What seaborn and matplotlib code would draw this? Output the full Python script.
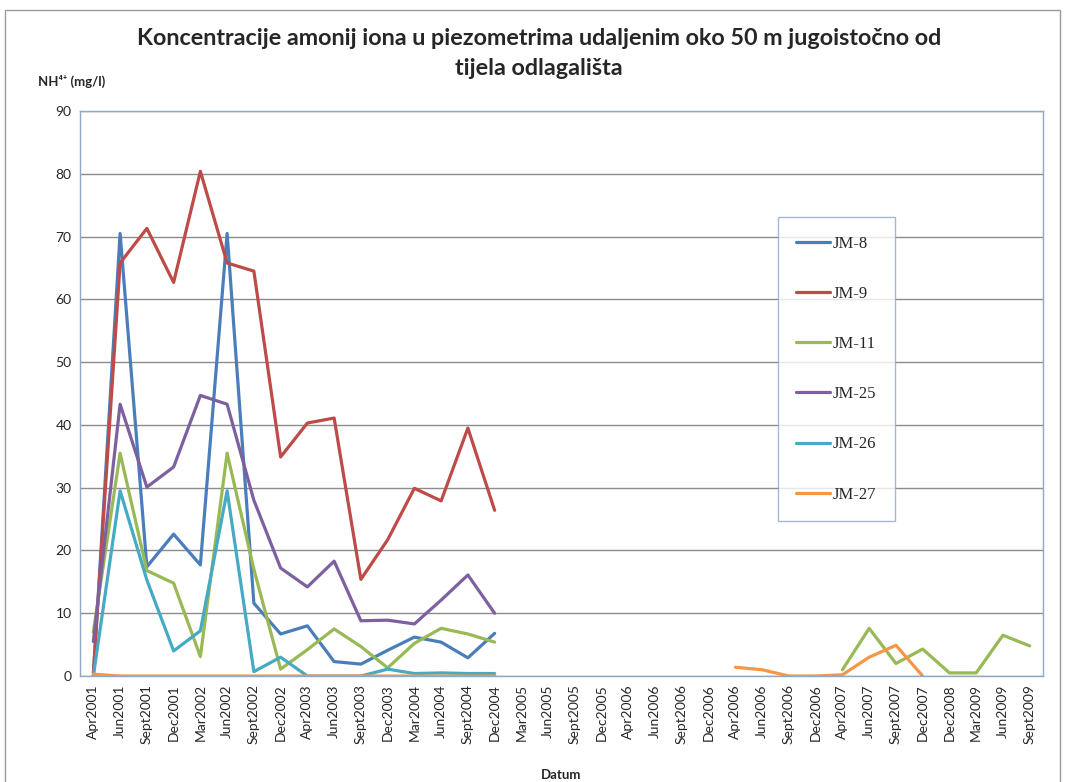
import numpy as np
import pandas as pd
import matplotlib
matplotlib.use("Agg")
import matplotlib.pyplot as plt
import seaborn as sns
from matplotlib.patches import Rectangle

nan = np.nan

datumi = ["Apr2001", "Jun2001", "Sept2001", "Dec2001", "Mar2002", "Jun2002",
          "Sept2002", "Dec2002", "Apr2003", "Jun2003", "Sept2003", "Dec2003",
          "Mar2004", "Jun2004", "Sept2004", "Dec2004", "Mar2005", "Jun2005",
          "Sept2005", "Dec2005", "Apr2006", "Jun2006", "Sept2006", "Dec2006",
          "Apr2006", "Jun2006", "Sept2006", "Dec2006", "Apr2007", "Jun2007",
          "Sept2007", "Dec2007", "Dec2008", "Mar2009", "Jun2009", "Sept2009"]

praznina_20 = [nan] * 20

jm8 = [0.0, 70.5, 17.4, 22.6, 17.7, 70.5, 11.6, 6.7, 8.0, 2.3, 1.9, 4.1,
       6.2, 5.4, 2.9, 6.8] + praznina_20
jm9 = [0.5, 65.8, 71.3, 62.7, 80.4, 65.8, 64.5, 34.9, 40.3, 41.1, 15.4, 21.7,
       29.9, 27.9, 39.5, 26.4] + praznina_20
jm11 = [7.0, 35.5, 16.8, 14.8, 3.1, 35.5, 17.0, 1.1, 4.2, 7.5, 4.7, 1.3,
        5.2, 7.6, 6.7, 5.4] + [nan] * 12 + [1.0, 7.6, 2.0, 4.3, 0.5, 0.5, 6.5, 4.8]
jm25 = [5.5, 43.3, 30.1, 33.3, 44.7, 43.3, 28.0, 17.2, 14.2, 18.3, 8.8, 8.9,
        8.3, 12.1, 16.1, 10.0] + praznina_20
jm26 = [0.0, 29.5, 15.3, 4.0, 7.2, 29.5, 0.7, 3.0, 0.0, 0.0, 0.0, 1.1,
        0.4, 0.5, 0.4, 0.4] + praznina_20
jm27 = [0.3, 0.0, 0.0, 0.0, 0.0, 0.0, 0.0, 0.0, 0.0, 0.0, 0.0, 0.0,
        0.0, 0.0, 0.0, 0.0] + [nan] * 8 + [1.4, 1.0, 0.0, 0.0, 0.2, 3.0, 4.9, 0.0] + [nan] * 4

serije = {"JM-8": jm8, "JM-9": jm9, "JM-11": jm11,
          "JM-25": jm25, "JM-26": jm26, "JM-27": jm27}
boje = ["#4A7EBB", "#BE4B48", "#98B954", "#7D60A0", "#46AAC5", "#F79646"]


def u_dugi_oblik(serije):
    """Pretvara serije u dugi oblik; svaki neprekinuti dio dobiva svoj 'segment'."""
    redovi = []
    for ime, vrijednosti in serije.items():
        segment = 0
        prethodni_nan = True
        for i, v in enumerate(vrijednosti):
            if np.isnan(v):
                prethodni_nan = True
                continue
            if prethodni_nan:
                segment += 1
                prethodni_nan = False
            redovi.append({"piezometar": ime, "idx": i, "vrijednost": v,
                           "segment": f"{ime}_{segment}"})
    return pd.DataFrame(redovi)


df = u_dugi_oblik(serije)

sns.set_theme(style="white")
plt.rcParams["font.family"] = ["Lato", "DejaVu Sans"]

fig = plt.figure(figsize=(10.65, 7.82), dpi=100)
ax = fig.add_axes([0.0751, 0.1355, 0.9043, 0.7225])

sns.lineplot(data=df, x="idx", y="vrijednost", hue="piezometar",
             units="segment", estimator=None, palette=boje,
             hue_order=list(serije.keys()), linewidth=2.3, ax=ax,
             legend=True)

ax.set_xlim(-0.5, len(datumi) - 0.5)
ax.set_ylim(0, 90)
ax.set_yticks(range(0, 91, 10))
ax.set_yticklabels([str(v) for v in range(0, 91, 10)], fontsize=10)
ax.set_xticks(range(len(datumi)))
ax.set_xticklabels(datumi, rotation=90, fontsize=10)
ax.yaxis.grid(True, color="#8C8C8C", linewidth=1.0)
ax.set_axisbelow(True)
ax.tick_params(axis="both", length=0, pad=6)
for s in ax.spines.values():
    s.set_color("#8EA9C8")
    s.set_linewidth(1.0)

ax.set_xlabel("Datum", fontsize=9.5, fontweight="bold", labelpad=18)
ax.set_ylabel("")
fig.text(0.036, 0.89, "NH⁴⁺ (mg/l)", fontsize=9.5, fontweight="bold",
         family=["Lato", "DejaVu Sans"])

fig.text(0.506, 0.951, "Koncentracije amonij iona u piezometrima udaljenim oko 50 m jugoistočno od",
         ha="center", va="center", fontsize=16.8, fontweight="bold")
fig.text(0.506, 0.912, "tijela odlagališta",
         ha="center", va="center", fontsize=16.8, fontweight="bold")

leg = ax.legend(loc="upper left", bbox_to_anchor=(0.7305, 0.722),
                bbox_transform=fig.transFigure, frameon=True, fancybox=False,
                prop={"family": "Liberation Serif", "size": 12},
                labelspacing=2.05, handlelength=2.0, handletextpad=0.2,
                borderpad=1.1, borderaxespad=0)
leg.get_frame().set_edgecolor("#8EA9C8")
leg.get_frame().set_linewidth(1.0)
for ln in leg.get_lines():
    ln.set_linewidth(2.3)

fig.patches.append(Rectangle((0.005, -0.01), 0.99, 0.997, transform=fig.transFigure,
                             fill=False, edgecolor="#9A9A9A", linewidth=1.0))

fig.savefig("out.png", dpi=100)
